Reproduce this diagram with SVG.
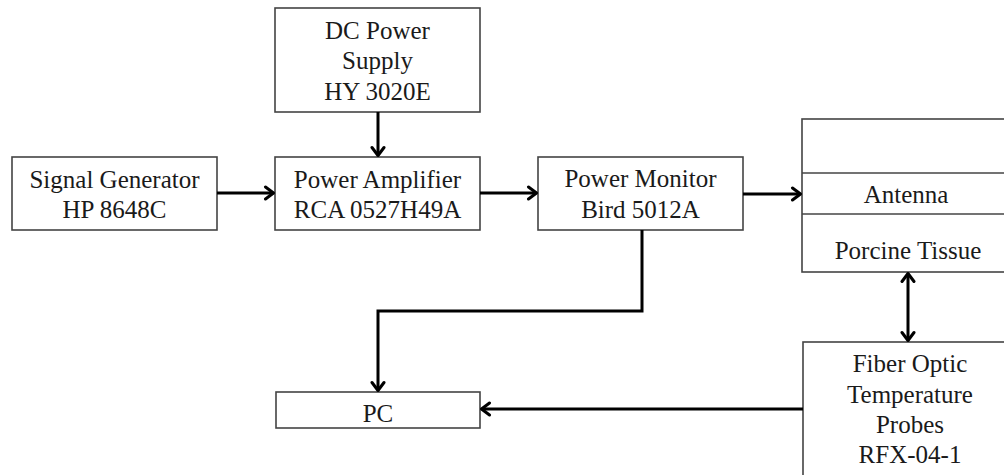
<svg xmlns="http://www.w3.org/2000/svg" width="1004" height="475" viewBox="0 0 1004 475">
<style>
.box{fill:#fff;stroke:#444;stroke-width:1.6}
.t{font-family:'Times New Roman','Liberation Serif','DejaVu Serif',serif;font-size:25px;fill:#1a1a1a;text-anchor:middle}
.c{fill:none;stroke:#000;stroke-width:3}
</style>
<defs>
<marker id="ah" viewBox="-11 -8 13 16" markerWidth="13" markerHeight="16" refX="0" refY="0" orient="auto-start-reverse" markerUnits="userSpaceOnUse">
<path d="M-8,-6 L0,0 L-8,6" fill="none" stroke="#000" stroke-width="3" stroke-linejoin="round" stroke-linecap="round"/>
</marker>
</defs>
<rect width="1004" height="475" fill="#fff"/>
<g id="dc">
<rect class="box" x="275" y="8" width="205" height="104"/>
<text class="t" x="377.5" y="39">DC Power</text>
<text class="t" x="377.5" y="69">Supply</text>
<text class="t" x="377.5" y="100">HY 3020E</text>
</g>
<g id="siggen">
<rect class="box" x="12" y="157" width="205" height="73"/>
<text class="t" x="114.5" y="188">Signal Generator</text>
<text class="t" x="114.5" y="218">HP 8648C</text>
</g>
<g id="amp">
<rect class="box" x="275" y="157" width="205" height="73"/>
<text class="t" x="377.5" y="188">Power Amplifier</text>
<text class="t" x="377.5" y="218">RCA 0527H49A</text>
</g>
<g id="monitor">
<rect class="box" x="538" y="157" width="205" height="73"/>
<text class="t" x="640.5" y="187">Power Monitor</text>
<text class="t" x="640.5" y="218">Bird 5012A</text>
</g>
<g id="tissue">
<rect class="box" x="802" y="119" width="230" height="153"/>
<line class="box" x1="802" y1="173" x2="1032" y2="173"/>
<line class="box" x1="802" y1="214" x2="1032" y2="214"/>
<text class="t" x="906" y="203">Antenna</text>
<text class="t" x="908" y="259">Porcine Tissue</text>
</g>
<g id="probes">
<rect class="box" x="803" y="342" width="230" height="150"/>
<text class="t" x="910" y="372">Fiber Optic</text>
<text class="t" x="910" y="403">Temperature</text>
<text class="t" x="910" y="433">Probes</text>
<text class="t" x="910" y="463">RFX-04-1</text>
</g>
<g id="pc">
<rect class="box" x="276" y="392" width="204" height="36"/>
<text class="t" x="378" y="422">PC</text>
</g>
<g id="connectors">
<line class="c" x1="378" y1="112" x2="378" y2="155.5" marker-end="url(#ah)"/>
<line class="c" x1="217" y1="193" x2="273.5" y2="193" marker-end="url(#ah)"/>
<line class="c" x1="480" y1="193" x2="536.5" y2="193" marker-end="url(#ah)"/>
<line class="c" x1="743" y1="194" x2="800.5" y2="194" marker-end="url(#ah)"/>
<polyline class="c" points="642,230 642,311 378,311 378,390.5" marker-end="url(#ah)"/>
<line class="c" x1="803" y1="409" x2="481.5" y2="409" marker-end="url(#ah)"/>
<line class="c" x1="908" y1="273.5" x2="908" y2="340.5" marker-start="url(#ah)" marker-end="url(#ah)"/>
</g>
</svg>
